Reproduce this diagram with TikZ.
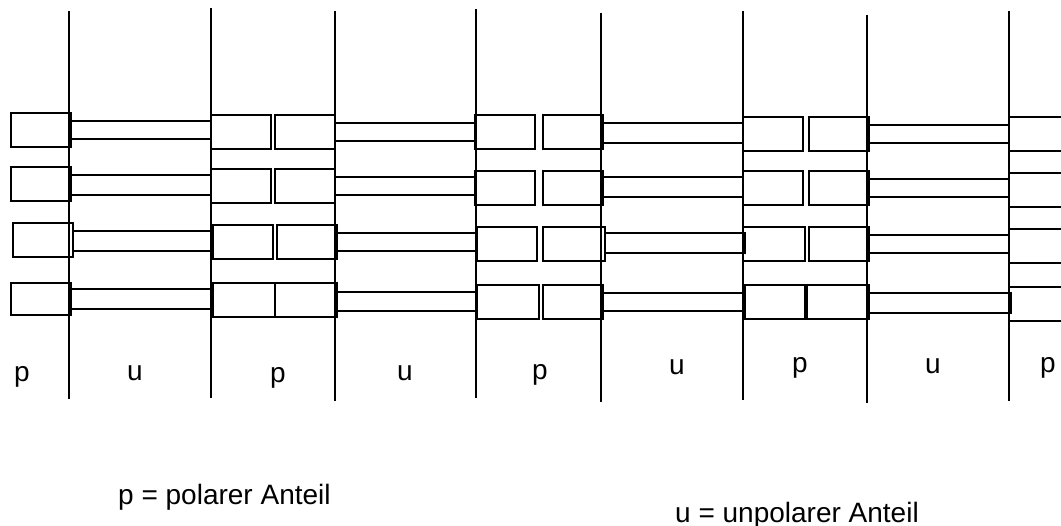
\documentclass[tikz,border=0pt]{standalone}
\usepackage{fontspec}
\setmainfont{Liberation Sans}
\begin{document}
\begin{tikzpicture}[x=1pt,y=-1pt,
  vline/.style={line width=1.3pt},
  cell/.style={line width=1.1pt},
  lbl/.style={anchor=base,inner sep=0pt,font=\fontsize{28}{30}\selectfont},
  legend/.style={anchor=base west,inner sep=0pt,font=\fontsize{28}{30}\selectfont}]
\useasboundingbox (0,0) rectangle (1061,526);
\clip (0,0) rectangle (1061,526);
% vertical lines
\foreach \x/\a/\b in {69/11/399,211/8/398,335/11/401,476/9/398,601/13/402,743/11/400,867/15/403,1009/11/401}
  \draw[vline] (\x,\a) -- (\x,\b);
% boxes (polar parts)
\foreach \xa/\ya/\xb/\yb in {
  11/113/71/147, 11/167/71/201, 13/223/73/257, 11/283/71/315,
  211/115/271/149, 275/115/335/149, 211/169/271/203, 275/169/335/203,
  213/225/273/259, 277/225/337/259, 213/283/275/317, 275/283/337/317,
  475/115/535/149, 543/115/603/149, 475/171/535/205, 543/171/603/205,
  477/227/537/261, 543/227/605/261, 477/285/539/319, 543/285/603/319,
  743/117/803/151, 809/117/869/151, 743/171/803/205, 809/171/869/205,
  743/227/805/261, 809/227/869/261, 745/285/805/319, 807/285/869/319,
  1009/117/1080/151, 1009/173/1080/207, 1009/229/1080/263, 1009/287/1080/321}
  \draw[cell] (\xa,\ya) rectangle (\xb,\yb);
% connectors (unpolar parts)
\foreach \xa/\ya/\xb/\yb in {
  71/121/211/139, 71/175/211/195, 73/231/213/251, 71/289/213/309,
  335/123/475/141, 335/177/475/195, 337/233/477/251, 337/292/477/311,
  603/123/743/143, 603/177/743/197, 605/233/745/253, 603/293/745/311,
  869/125/1009/143, 869/179/1009/197, 869/235/1009/253, 869/293/1011/313}
  \draw[cell] (\xa,\ya) rectangle (\xb,\yb);
% labels
\node[lbl] (l1) at (22,382) {p};
\node[lbl] (l2) at (135,381) {u};
\node[lbl] (l3) at (278,383) {p};
\node[lbl] (l4) at (405,381) {u};
\node[lbl] (l5) at (540,380) {p};
\node[lbl] (l6) at (677,375) {u};
\node[lbl] (l7) at (800,373) {p};
\node[lbl] (l8) at (933,374) {u};
\node[lbl] (l9) at (1048,373) {p};
% legend
\node[legend] (lp) at (118,505) {p = polarer Anteil};
\node[legend] (lu) at (675,522) {u = unpolarer Anteil};
\end{tikzpicture}
\end{document}
